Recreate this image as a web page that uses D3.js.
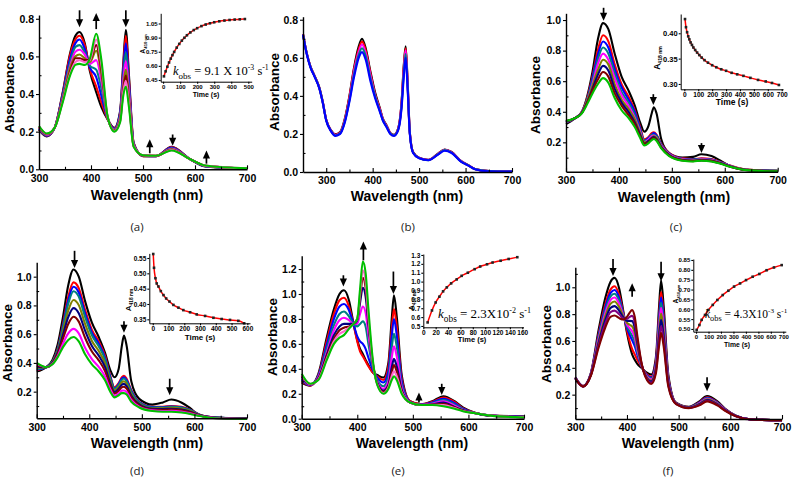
<!DOCTYPE html>
<html><head><meta charset="utf-8">
<script src="https://cdn.jsdelivr.net/npm/d3@7"></script>
<style>
body{margin:0;background:#fff}
svg{display:block}
</style>
</head><body>
<svg id="c" width="792" height="482" font-family="'Liberation Sans',Arial,sans-serif"></svg>
<script>
// ---------------- DATA ----------------
const C = {black:"#000000", red:"#ff0000", blue:"#0000ff", teal:"#008080", magenta:"#ff00ff", olive:"#808000",
  navy:"#000080", purple:"#800080", wine:"#800000", pink:"#ff66cc", green:"#00c000"};

// (a)
const wlA = [300,315,330,345,360,370,378,388,398,410,420,432,445,456,462,467,473,482,500,525,555,590,620,700];
const colorsA = ["black","red","blue","teal","magenta","olive","wine","pink","green"];
const absA = [
 [0.21,0.175,0.22,0.40,0.62,0.71,0.73,0.67,0.52,0.41,0.33,0.265,0.22,0.31,0.56,0.74,0.50,0.14,0.07,0.07,0.12,0.055,0.015,0.003],
 [0.212,0.177,0.22,0.395,0.61,0.69,0.71,0.66,0.53,0.44,0.355,0.267,0.218,0.30,0.54,0.71,0.48,0.138,0.07,0.07,0.118,0.055,0.016,0.003],
 [0.215,0.179,0.22,0.39,0.59,0.67,0.69,0.64,0.54,0.49,0.39,0.27,0.215,0.30,0.52,0.67,0.46,0.135,0.071,0.07,0.115,0.055,0.016,0.0035],
 [0.218,0.181,0.22,0.38,0.57,0.65,0.66,0.62,0.55,0.53,0.43,0.271,0.212,0.29,0.49,0.62,0.43,0.132,0.072,0.071,0.112,0.055,0.017,0.004],
 [0.221,0.183,0.22,0.37,0.55,0.625,0.635,0.61,0.56,0.58,0.47,0.273,0.209,0.28,0.47,0.575,0.41,0.129,0.073,0.071,0.109,0.055,0.018,0.004],
 [0.224,0.186,0.22,0.365,0.54,0.60,0.61,0.59,0.57,0.63,0.505,0.276,0.206,0.27,0.44,0.53,0.38,0.126,0.0735,0.0714,0.106,0.055,0.0185,0.0044],
 [0.226,0.187,0.22,0.36,0.52,0.59,0.59,0.58,0.58,0.66,0.53,0.277,0.204,0.26,0.42,0.50,0.36,0.124,0.074,0.0716,0.104,0.055,0.019,0.0046],
 [0.228,0.189,0.22,0.355,0.51,0.57,0.58,0.57,0.58,0.69,0.555,0.279,0.202,0.256,0.41,0.47,0.35,0.122,0.0745,0.0718,0.102,0.055,0.0195,0.0048],
 [0.23,0.19,0.22,0.35,0.50,0.555,0.56,0.555,0.59,0.72,0.58,0.28,0.20,0.25,0.39,0.44,0.33,0.12,0.075,0.072,0.10,0.055,0.02,0.005]
];
const arrowsA = [[378,0.845,0.755],[410,0.745,0.83],[467,0.845,0.755],[513,0.085,0.16],[557,0.185,0.125],[622,0.03,0.1]];
const kinTimeA = [5,15,25,35,45,55,65,80,95,110,125,140,160,180,200,225,250,275,300,330,360,390,420,450,480];
const kinAbsA = [0.489,0.542,0.591,0.636,0.677,0.714,0.748,0.794,0.833,0.868,0.898,0.925,0.955,0.980,1.000,1.022,1.039,1.052,1.063,1.073,1.081,1.087,1.091,1.094,1.097];

// (b)
const wlB = [250,258,266,275,285,292,300,310,320,330,340,350,360,370,377,385,395,405,415,422,430,438,446,455,462,467,471,475,480,487,500,520,540,555,570,590,605,620,650,700];
const colorsB = ["black","red","magenta","teal","blue"];
const absB = [
 [0.725,0.625,0.555,0.505,0.445,0.375,0.275,0.22,0.198,0.21,0.28,0.40,0.55,0.66,0.70,0.65,0.53,0.42,0.34,0.28,0.245,0.205,0.195,0.23,0.36,0.56,0.66,0.49,0.21,0.105,0.075,0.064,0.095,0.118,0.105,0.058,0.037,0.016,0.005,0.002],
 [0.724,0.624,0.554,0.504,0.444,0.374,0.274,0.219,0.196,0.207,0.275,0.395,0.54,0.645,0.685,0.64,0.52,0.41,0.335,0.277,0.243,0.204,0.194,0.228,0.355,0.55,0.65,0.48,0.207,0.104,0.074,0.063,0.094,0.117,0.104,0.057,0.036,0.016,0.005,0.002],
 [0.723,0.623,0.553,0.503,0.443,0.373,0.273,0.218,0.194,0.205,0.27,0.385,0.53,0.63,0.67,0.625,0.51,0.405,0.33,0.275,0.24,0.203,0.193,0.226,0.35,0.535,0.64,0.475,0.205,0.103,0.074,0.063,0.093,0.116,0.103,0.057,0.036,0.016,0.005,0.002],
 [0.722,0.622,0.552,0.502,0.442,0.372,0.272,0.217,0.192,0.203,0.265,0.378,0.515,0.615,0.65,0.61,0.495,0.40,0.325,0.272,0.238,0.202,0.192,0.224,0.34,0.52,0.62,0.465,0.203,0.102,0.073,0.062,0.092,0.115,0.102,0.056,0.036,0.016,0.005,0.002],
 [0.72,0.62,0.55,0.50,0.44,0.37,0.27,0.215,0.19,0.20,0.26,0.37,0.50,0.60,0.63,0.59,0.48,0.39,0.32,0.27,0.235,0.20,0.19,0.22,0.33,0.50,0.60,0.45,0.20,0.10,0.072,0.062,0.09,0.112,0.10,0.055,0.035,0.015,0.004,0.002]
];

// (c)
const wlC = [300,318,330,340,350,360,370,380,392,405,418,430,440,448,456,462,466,471,480,495,520,540,556,575,592,610,640,700];
const colorsC = ["black","red","blue","teal","magenta","olive","navy","wine","green"];
const absC = [
 [0.32,0.36,0.40,0.50,0.66,0.87,0.98,0.94,0.78,0.63,0.54,0.44,0.33,0.27,0.31,0.39,0.43,0.39,0.22,0.13,0.10,0.105,0.122,0.11,0.08,0.045,0.022,0.015],
 [0.33,0.36,0.40,0.49,0.63,0.80,0.90,0.86,0.71,0.58,0.50,0.41,0.30,0.22,0.235,0.26,0.265,0.25,0.19,0.13,0.095,0.09,0.095,0.09,0.072,0.048,0.022,0.013],
 [0.331,0.36,0.399,0.48,0.62,0.77,0.86,0.82,0.68,0.56,0.48,0.40,0.29,0.21,0.23,0.25,0.26,0.245,0.186,0.127,0.093,0.088,0.093,0.088,0.07,0.047,0.021,0.013],
 [0.333,0.36,0.397,0.48,0.60,0.74,0.82,0.78,0.65,0.53,0.46,0.38,0.28,0.21,0.22,0.25,0.25,0.24,0.181,0.124,0.091,0.086,0.091,0.086,0.069,0.046,0.021,0.012],
 [0.334,0.36,0.396,0.47,0.58,0.71,0.78,0.74,0.62,0.51,0.44,0.36,0.27,0.20,0.22,0.24,0.245,0.23,0.177,0.121,0.089,0.084,0.089,0.084,0.067,0.045,0.02,0.012],
 [0.336,0.36,0.394,0.47,0.57,0.67,0.74,0.71,0.58,0.48,0.42,0.35,0.26,0.20,0.21,0.23,0.24,0.23,0.173,0.119,0.086,0.081,0.086,0.081,0.065,0.043,0.02,0.011],
 [0.337,0.36,0.393,0.46,0.55,0.64,0.70,0.67,0.55,0.46,0.40,0.33,0.25,0.19,0.21,0.228,0.234,0.22,0.169,0.116,0.084,0.079,0.084,0.079,0.063,0.042,0.019,0.011],
 [0.339,0.36,0.392,0.46,0.54,0.61,0.66,0.63,0.52,0.44,0.38,0.32,0.24,0.19,0.20,0.222,0.228,0.216,0.165,0.113,0.082,0.077,0.082,0.077,0.062,0.041,0.019,0.010],
 [0.34,0.36,0.39,0.45,0.52,0.58,0.62,0.59,0.49,0.41,0.36,0.30,0.23,0.18,0.195,0.215,0.222,0.21,0.16,0.11,0.08,0.075,0.08,0.075,0.06,0.04,0.018,0.01]
];
const arrowsC = [[371,1.08,0.995],[465,0.515,0.445],[556,0.195,0.13]];
const kinTimeC = [5,12,20,28,36,45,55,65,78,92,108,125,145,170,200,230,265,300,340,380,425,475,530,585,630,680];
const kinAbsC = [0.428,0.412,0.402,0.394,0.388,0.382,0.377,0.372,0.367,0.362,0.357,0.352,0.347,0.342,0.337,0.333,0.329,0.326,0.322,0.319,0.316,0.312,0.308,0.305,0.302,0.298];

// (d)
const wlD = [300,318,330,340,350,360,370,380,392,405,418,430,440,448,456,462,466,471,480,495,520,540,556,575,592,610,640,700];
const colorsD = ["black","red","blue","teal","olive","navy","wine","magenta","green"];
const absD = [
 [0.34,0.37,0.42,0.53,0.72,0.94,1.05,1.0,0.83,0.68,0.58,0.47,0.35,0.30,0.36,0.52,0.59,0.52,0.27,0.15,0.11,0.125,0.145,0.125,0.085,0.035,0.02,0.012],
 [0.35,0.37,0.41,0.50,0.67,0.86,0.96,0.92,0.77,0.63,0.55,0.45,0.31,0.23,0.26,0.30,0.31,0.29,0.21,0.13,0.095,0.095,0.10,0.095,0.075,0.04,0.02,0.012],
 [0.354,0.37,0.408,0.495,0.657,0.836,0.93,0.89,0.745,0.611,0.533,0.436,0.301,0.224,0.253,0.291,0.30,0.281,0.204,0.127,0.093,0.092,0.097,0.092,0.073,0.039,0.02,0.012],
 [0.358,0.37,0.407,0.49,0.644,0.812,0.899,0.861,0.72,0.592,0.516,0.423,0.292,0.219,0.246,0.282,0.291,0.272,0.197,0.124,0.09,0.089,0.094,0.089,0.07,0.038,0.019,0.012],
 [0.366,0.37,0.404,0.481,0.619,0.764,0.838,0.802,0.671,0.553,0.483,0.396,0.275,0.208,0.233,0.265,0.272,0.255,0.184,0.117,0.085,0.084,0.087,0.082,0.065,0.037,0.018,0.011],
 [0.374,0.37,0.401,0.472,0.595,0.719,0.781,0.746,0.624,0.517,0.451,0.37,0.258,0.197,0.22,0.248,0.254,0.238,0.172,0.111,0.081,0.079,0.081,0.076,0.061,0.035,0.018,0.011],
 [0.382,0.37,0.397,0.462,0.569,0.671,0.721,0.687,0.575,0.479,0.418,0.343,0.241,0.186,0.206,0.231,0.234,0.221,0.16,0.105,0.076,0.073,0.075,0.07,0.056,0.034,0.017,0.011],
 [0.393,0.37,0.393,0.449,0.534,0.605,0.637,0.606,0.506,0.426,0.372,0.305,0.217,0.171,0.188,0.207,0.208,0.197,0.142,0.096,0.07,0.065,0.066,0.061,0.049,0.032,0.016,0.010],
 [0.40,0.37,0.39,0.44,0.51,0.56,0.58,0.55,0.46,0.39,0.34,0.28,0.20,0.16,0.175,0.19,0.19,0.18,0.13,0.09,0.065,0.06,0.06,0.055,0.045,0.03,0.015,0.01]
];
const arrowsD = [[372,1.18,1.06],[466,0.69,0.61],[553,0.29,0.175]];
const kinTimeD = [3,8,17,25,36,51,68,85,106,131,163,194,237,279,332,385,437,490,543,580];
const kinAbsD = [0.563,0.518,0.484,0.467,0.457,0.442,0.429,0.418,0.408,0.397,0.388,0.380,0.373,0.366,0.361,0.355,0.351,0.348,0.345,0.337];

// (e)
const wlE = [300,315,330,345,358,368,376,385,393,400,405,410,415,420,428,436,447,456,462,466,471,480,495,515,535,555,575,590,610,640,700];
const colorsE = ["black","red","blue","teal","magenta","navy","wine","pink","green"];
const absE = [
 [0.29,0.265,0.36,0.65,0.88,1.0,1.03,0.95,0.77,0.63,0.56,0.52,0.47,0.43,0.37,0.35,0.33,0.45,0.80,0.99,0.82,0.35,0.14,0.115,0.14,0.18,0.14,0.09,0.05,0.025,0.02],
 [0.30,0.265,0.35,0.62,0.84,0.95,0.97,0.90,0.76,0.62,0.54,0.50,0.46,0.42,0.37,0.34,0.31,0.42,0.72,0.88,0.74,0.32,0.14,0.115,0.135,0.17,0.135,0.085,0.05,0.025,0.018],
 [0.31,0.268,0.345,0.59,0.80,0.90,0.92,0.87,0.76,0.66,0.62,0.60,0.56,0.49,0.39,0.33,0.29,0.38,0.66,0.80,0.67,0.30,0.135,0.113,0.13,0.16,0.125,0.08,0.048,0.025,0.016],
 [0.32,0.27,0.34,0.56,0.75,0.84,0.86,0.82,0.76,0.74,0.76,0.78,0.74,0.60,0.41,0.31,0.26,0.34,0.57,0.68,0.58,0.27,0.13,0.112,0.125,0.15,0.115,0.075,0.047,0.025,0.015],
 [0.33,0.272,0.335,0.53,0.71,0.79,0.81,0.79,0.76,0.76,0.84,0.90,0.85,0.68,0.43,0.30,0.24,0.30,0.49,0.58,0.50,0.25,0.13,0.111,0.12,0.14,0.105,0.07,0.046,0.025,0.014],
 [0.34,0.275,0.325,0.51,0.67,0.74,0.76,0.76,0.76,0.79,0.93,1.05,0.98,0.76,0.44,0.29,0.225,0.27,0.41,0.48,0.42,0.23,0.13,0.11,0.115,0.13,0.095,0.068,0.046,0.025,0.013],
 [0.345,0.277,0.32,0.50,0.64,0.71,0.73,0.74,0.76,0.80,0.97,1.13,1.05,0.79,0.445,0.28,0.215,0.26,0.37,0.43,0.38,0.22,0.13,0.11,0.113,0.12,0.09,0.065,0.045,0.025,0.012],
 [0.35,0.278,0.315,0.48,0.62,0.68,0.70,0.73,0.76,0.80,1.00,1.19,1.10,0.82,0.45,0.275,0.205,0.25,0.34,0.38,0.34,0.21,0.13,0.11,0.111,0.11,0.085,0.062,0.045,0.025,0.011],
 [0.36,0.28,0.31,0.47,0.60,0.65,0.67,0.72,0.76,0.80,1.04,1.26,1.17,0.88,0.47,0.27,0.20,0.24,0.31,0.34,0.31,0.20,0.13,0.11,0.11,0.10,0.08,0.06,0.045,0.025,0.01]
];
const arrowsE = [[375,1.15,1.06],[411,1.27,1.42],[465,1.18,1.0],[511,0.13,0.21],[552,0.28,0.19]];
const kinTimeE = [7,14,20,26,32,38,45,54,62,72,83,92,103,112,125,138,152];
const kinAbsE = [0.54,0.675,0.765,0.83,0.89,0.935,0.98,1.025,1.065,1.10,1.14,1.17,1.195,1.215,1.235,1.255,1.275];

// (f)
const wlF = [300,315,330,345,358,368,376,385,393,400,405,410,415,420,428,436,447,456,462,466,471,480,495,520,540,555,575,590,610,640,700];
const colorsF = ["black","red","blue","teal","magenta","olive","navy","purple","wine"];
const absF = [
 [0.33,0.265,0.36,0.68,0.92,1.04,1.07,0.99,0.82,0.66,0.57,0.50,0.46,0.43,0.40,0.37,0.35,0.48,0.85,1.05,0.86,0.35,0.14,0.11,0.15,0.19,0.15,0.095,0.045,0.015,0.01],
 [0.328,0.264,0.356,0.651,0.872,0.983,1.008,0.942,0.807,0.68,0.60,0.54,0.50,0.46,0.409,0.361,0.335,0.454,0.786,0.964,0.794,0.33,0.138,0.108,0.143,0.181,0.143,0.092,0.044,0.015,0.01],
 [0.327,0.263,0.354,0.638,0.85,0.957,0.98,0.92,0.801,0.698,0.647,0.606,0.562,0.497,0.413,0.357,0.328,0.442,0.757,0.925,0.764,0.321,0.137,0.107,0.14,0.177,0.14,0.09,0.043,0.015,0.01],
 [0.326,0.263,0.352,0.625,0.828,0.931,0.952,0.898,0.795,0.71,0.671,0.639,0.594,0.518,0.417,0.353,0.321,0.43,0.728,0.886,0.734,0.312,0.136,0.106,0.137,0.173,0.137,0.089,0.043,0.015,0.01],
 [0.325,0.262,0.35,0.612,0.806,0.905,0.924,0.876,0.789,0.722,0.695,0.672,0.626,0.539,0.421,0.349,0.314,0.418,0.699,0.847,0.704,0.303,0.135,0.105,0.134,0.169,0.134,0.087,0.042,0.015,0.01],
 [0.324,0.262,0.347,0.598,0.781,0.876,0.894,0.851,0.782,0.736,0.721,0.708,0.662,0.562,0.425,0.345,0.306,0.404,0.667,0.804,0.671,0.293,0.134,0.104,0.131,0.165,0.131,0.085,0.042,0.015,0.01],
 [0.323,0.261,0.345,0.583,0.755,0.845,0.86,0.825,0.775,0.75,0.75,0.748,0.70,0.588,0.43,0.34,0.298,0.39,0.633,0.758,0.635,0.283,0.133,0.103,0.128,0.16,0.128,0.084,0.041,0.015,0.01],
 [0.321,0.261,0.343,0.567,0.729,0.814,0.826,0.799,0.768,0.764,0.779,0.787,0.738,0.613,0.435,0.335,0.289,0.376,0.598,0.711,0.599,0.272,0.131,0.101,0.124,0.155,0.124,0.082,0.041,0.015,0.01],
 [0.32,0.26,0.34,0.55,0.70,0.78,0.79,0.77,0.76,0.78,0.81,0.83,0.78,0.64,0.44,0.33,0.28,0.36,0.56,0.66,0.56,0.26,0.13,0.10,0.12,0.15,0.12,0.08,0.04,0.015,0.01]
];
const arrowsF = [[373,1.21,1.085],[410,0.93,1.03],[466,1.19,1.045],[555,0.33,0.225]];
const kinTimeF = [5,27,45,72,99,134,171,214,259,305,353,401,454,508,566,625,687];
const kinAbsF = [0.495,0.52,0.546,0.571,0.596,0.622,0.647,0.672,0.694,0.715,0.731,0.748,0.765,0.779,0.798,0.812,0.824];

// tick label lists
const xTicksMain = [300,400,500,600,700];
const xMinorMain = [350,450,550,650];
const xMinorB = [250,350,450,550,650];
const yTicksA = [0,0.2,0.4,0.6,0.8], yMinorA = [0.1,0.3,0.5,0.7];
const yTicksC = [0.2,0.4,0.6,0.8,1.0], yMinorC = [0.1,0.3,0.5,0.7,0.9];
const yTicksE = [0,0.2,0.4,0.6,0.8,1.0,1.2], yMinorE = [0.1,0.3,0.5,0.7,0.9,1.1];
const yMinorF = [0.1,0.3,0.5,0.7,0.9,1.1];
const panelLabels = ["(a)","(b)","(c)","(d)","(e)","(f)"];

// ---------------- DRAW ----------------
const SANS = "'Liberation Sans',Arial,sans-serif";
const SERIF = "'Liberation Serif','Times New Roman',serif";
const svg = d3.select("#c");
svg.append("rect").attr("width",792).attr("height",482).attr("fill","#fff");

function styleAxis(g, fs) {
  g.attr("font-family", null).attr("font-size", null);
  g.selectAll("path.domain").attr("stroke","#000").attr("stroke-width",1.4);
  g.selectAll(".tick line").attr("stroke","#000").attr("stroke-width",1.1);
  g.selectAll(".tick text").attr("font-weight","bold").attr("fill","#000")
    .style("font-family",SANS).style("font-size",fs+"px");
}

function drawArrow(g, x, y1, y2) {
  const dir = y2 > y1 ? 1 : -1, hl = 8, hw = 3.6;
  g.append("line").attr("x1",x).attr("x2",x).attr("y1",y1).attr("y2",y2 - dir*hl*0.7)
    .attr("stroke","#000").attr("stroke-width",1.7);
  g.append("path").attr("d",`M${x-hw},${y2-dir*hl}L${x+hw},${y2-dir*hl}L${x},${y2}Z`).attr("fill","#000");
}

function drawPanel(p) {
  const g = svg.append("g");
  const x = d3.scaleLinear().domain(p.xDom).range(p.xR);
  const y = d3.scaleLinear().domain(p.yDom).range(p.yR);
  const line = d3.line().x((d,i)=>x(p.wl[i])).y(d=>y(d)).curve(d3.curveMonotoneX);
  p.abs.forEach((arr,i)=>{
    g.append("path").attr("d", line(arr)).attr("fill","none").attr("stroke", C[p.colors[i]])
      .attr("stroke-width",2.1).attr("stroke-linejoin","round");
  });
  const xa = g.append("g").attr("transform",`translate(0,${p.yR[0]})`)
    .call(d3.axisBottom(x).tickValues(xTicksMain).tickFormat(d3.format("d")).tickSize(-4).tickPadding(5).tickSizeOuter(0));
  styleAxis(xa, 10.5);
  const xm = g.append("g").attr("transform",`translate(0,${p.yR[0]})`)
    .call(d3.axisBottom(x).tickValues(p.xMinor).tickFormat("").tickSize(-2.5).tickSizeOuter(0));
  xm.select("path.domain").remove(); styleAxis(xm, 10.5);
  const ya = g.append("g").attr("transform",`translate(${p.xR[0]},0)`)
    .call(d3.axisLeft(y).tickValues(p.yTicks).tickFormat(d3.format(".1f")).tickSize(3).tickPadding(2).tickSizeOuter(0));
  styleAxis(ya, 10.5);
  const ym = g.append("g").attr("transform",`translate(${p.xR[0]},0)`)
    .call(d3.axisLeft(y).tickValues(p.yMinor).tickFormat("").tickSize(-2.5).tickSizeOuter(0));
  ym.select("path.domain").remove(); styleAxis(ym, 10.5);
  g.append("text").attr("transform",`translate(${p.yt[0]},${p.yt[1]}) rotate(-90)`).attr("text-anchor","middle")
    .attr("font-weight","bold").style("font-family",SANS).style("font-size","13.5px").text("Absorbance");
  g.append("text").attr("x",p.xt[0]).attr("y",p.xt[1]).attr("text-anchor","middle")
    .attr("font-weight","bold").style("font-family",SANS).style("font-size","14px").text("Wavelength (nm)");
  g.append("text").attr("x",p.lab[0]).attr("y",p.lab[1]).attr("text-anchor","middle")
    .style("font-family","'Open Sans','DejaVu Sans',sans-serif").style("font-size","11.5px").attr("fill","#222").text(p.label);
  (p.arrows||[]).forEach(a=>drawArrow(g, x(a[0]), y(a[1]), y(a[2])));
}

function drawInset(q) {
  const g = svg.append("g");
  const x = d3.scaleLinear().domain(q.xDom).range(q.xR);
  const y = d3.scaleLinear().domain(q.yDom).range(q.yR);
  const line = d3.line().x((d,i)=>x(q.t[i])).y(d=>y(d)).curve(d3.curveMonotoneX);
  g.append("path").attr("d", line(q.a)).attr("fill","none").attr("stroke","#ff0000").attr("stroke-width",1.5);
  g.selectAll("rect.pt").data(q.a).enter().append("rect")
    .attr("x",(d,i)=>x(q.t[i])-1.3).attr("y",d=>y(d)-1.3).attr("width",2.6).attr("height",2.6).attr("fill","#222");
  const xa = g.append("g").attr("transform",`translate(0,${q.yR[0]})`)
    .call(d3.axisBottom(x).tickValues(q.xTicks).tickFormat(d3.format("d")).tickSize(2).tickPadding(1).tickSizeOuter(0));
  styleAxis(xa, q.fsx || q.fs);
  xa.selectAll("path.domain").attr("stroke-width",1);
  const ya = g.append("g").attr("transform",`translate(${q.xR[0]},0)`)
    .call(d3.axisLeft(y).tickValues(q.yTicks).tickFormat(d3.format(q.yFmt)).tickSize(2).tickPadding(1).tickSizeOuter(0));
  styleAxis(ya, q.fs);
  ya.selectAll("path.domain").attr("stroke-width",1);
  g.append("text").attr("x",q.tt[0]).attr("y",q.tt[1]).attr("text-anchor","middle")
    .attr("font-weight","bold").style("font-family",SANS).style("font-size",q.tfs+"px").text("Time (s)");
  const al = g.append("text").attr("transform",`translate(${q.al[0]},${q.al[1]}) rotate(-90)`).attr("text-anchor","middle")
    .attr("font-weight","bold").style("font-family",SANS).style("font-size",q.tfs+"px");
  al.append("tspan").text("A");
  al.append("tspan").style("font-size",(q.tfs*0.6)+"px").attr("dy",q.tfs*0.25).text(q.sub);
  if (q.k) {
    const t = g.append("text").attr("x",q.kp[0]).attr("y",q.kp[1])
      .style("font-family",SERIF).style("font-size",q.kfs+"px").attr("fill","#000");
    t.append("tspan").attr("font-style","italic").text("k");
    t.append("tspan").style("font-size",(q.kfs*0.72)+"px").attr("dy",q.kfs*0.28).text("obs");
    t.append("tspan").attr("dy",-q.kfs*0.28).text(q.k[0]);
    t.append("tspan").style("font-size",(q.kfs*0.62)+"px").attr("dy",-q.kfs*0.4).text(q.k[1]);
    t.append("tspan").attr("dy",q.kfs*0.4).text(" s");
    t.append("tspan").style("font-size",(q.kfs*0.62)+"px").attr("dy",-q.kfs*0.4).text("-1");
  }
}

drawPanel({wl:wlA, abs:absA, colors:colorsA, xDom:[300,700], xR:[39,247], yDom:[0,0.82], yR:[169.3,15],
  yTicks:yTicksA, yMinor:yMinorA, xMinor:xMinorMain, arrows:arrowsA, yt:[14,94], xt:[147,200], lab:[137,231], label:panelLabels[0]});
drawPanel({wl:wlB, abs:absB, colors:colorsB, xDom:[250,700], xR:[303,512], yDom:[0,0.816], yR:[172,16.7],
  yTicks:yTicksA, yMinor:yMinorA, xMinor:xMinorB, arrows:[], yt:[279,92], xt:[407,201], lab:[408,231], label:panelLabels[1]});
drawPanel({wl:wlC, abs:absC, colors:colorsC, xDom:[300,700], xR:[566,777.7], yDom:[0.008,1.044], yR:[171.7,13.3],
  yTicks:yTicksC, yMinor:yMinorC, xMinor:xMinorMain, arrows:arrowsC, yt:[540,95], xt:[674,202], lab:[676,231], label:panelLabels[2]});
drawPanel({wl:wlD, abs:absD, colors:colorsD, xDom:[300,700], xR:[36.7,247], yDom:[0.0146,1.10], yR:[418.3,262.3],
  yTicks:yTicksC, yMinor:yMinorC, xMinor:xMinorMain, arrows:arrowsD, yt:[12,343], xt:[147,448], lab:[137,475], label:panelLabels[3]});
drawPanel({wl:wlE, abs:absE, colors:colorsE, xDom:[300,700], xR:[301.7,524], yDom:[0,1.307], yR:[418.7,255.7],
  yTicks:yTicksE, yMinor:yMinorE, xMinor:xMinorMain, arrows:arrowsE, yt:[277,337], xt:[412,448], lab:[398,475], label:panelLabels[4]});
drawPanel({wl:wlF, abs:absF, colors:colorsF, xDom:[300,700], xR:[575.3,782], yDom:[0.0186,1.149], yR:[419,267.3],
  yTicks:yTicksC, yMinor:yMinorF, xMinor:xMinorMain, arrows:arrowsF, yt:[551,344], xt:[678,448], lab:[668,475], label:panelLabels[5]});

drawInset({t:kinTimeA, a:kinAbsA, xDom:[-14,520], xR:[160.7,251.7], yDom:[0.432,1.158], yR:[81.7,13.3],
  xTicks:[0,100,200,300,400,500], yTicks:[0.45,0.60,0.75,0.90,1.05], yFmt:".2f", fs:6, tfs:7, tt:[206,97], al:[145,44], sub:"410 nm",
  k:[" = 9.1 X 10","-3"], kp:[173,75], kfs:12.5});
drawInset({t:kinTimeC, a:kinAbsC, xDom:[-26,710], xR:[680.7,783.1], yDom:[0.2895,0.438], yR:[89.3,14],
  xTicks:[0,100,200,300,400,500,600,700], yTicks:[0.30,0.35,0.40], yFmt:".2f", fs:7.5, fsx:6.6, tfs:8.5, tt:[732,105], al:[660,58], sub:"418 nm"});
drawInset({t:kinTimeD, a:kinAbsD, xDom:[-22,617], xR:[149.3,250], yDom:[0.337,0.565], yR:[323.3,253.4],
  xTicks:[0,100,200,300,400,500,600], yTicks:[0.35,0.40,0.45,0.50,0.55], yFmt:".2f", fs:6.5, tfs:8, tt:[200,340], al:[131,300], sub:"418 nm"});
drawInset({t:kinTimeE, a:kinAbsE, xDom:[0,162], xR:[423.3,523.5], yDom:[0.485,1.311], yR:[327.3,254],
  xTicks:[0,20,40,60,80,100,120,140,160], yTicks:[0.5,0.6,0.7,0.8,0.9,1.0,1.1,1.2,1.3], yFmt:".1f", fs:6.5, tfs:7.5, tt:[472,342], al:[414,300], sub:"410 nm",
  k:[" = 2.3X10","-2"], kp:[438,318], kfs:13});
drawInset({t:kinTimeF, a:kinAbsF, xDom:[-22,720], xR:[693.3,785.8], yDom:[0.486,0.855], yR:[331.7,259],
  xTicks:[0,100,200,300,400,500,600,700], yTicks:[0.50,0.55,0.60,0.65,0.70,0.75,0.80,0.85], yFmt:".2f", fs:6, tfs:6.8, tt:[737,347], al:[678,294], sub:"410 nm",
  k:[" = 4.3X10","-3"], kp:[705,318], kfs:11.5});
</script>
</body></html>
